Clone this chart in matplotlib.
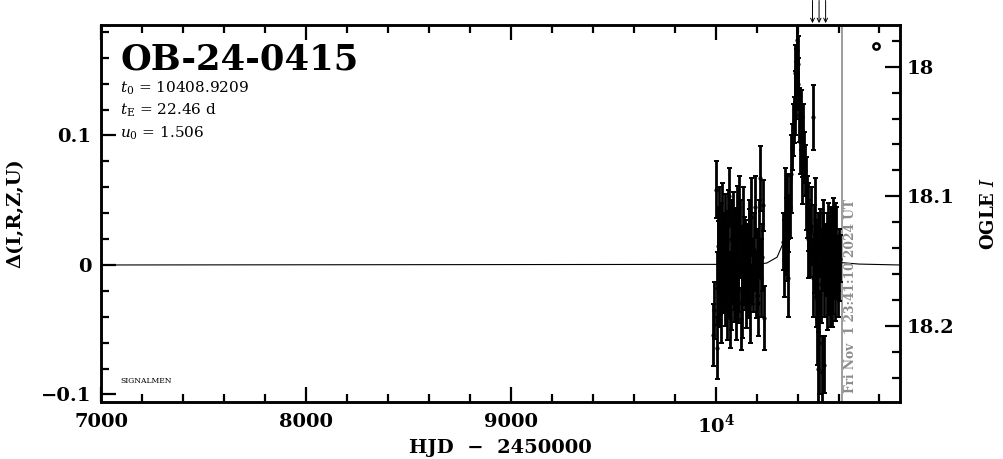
import matplotlib
matplotlib.use("Agg")
import matplotlib.pyplot as plt
from matplotlib.ticker import MultipleLocator, FixedLocator, FixedFormatter

plt.rcParams['font.family'] = ['DejaVu Serif']
plt.rcParams['mathtext.fontset'] = 'dejavuserif'

# ---------------- data ----------------
# season 2023
hjd_a = [9986, 9993, 10002, 10006, 10008, 10010, 10014, 10017, 10019, 10022,
         10025, 10027, 10030, 10032, 10035, 10038, 10041, 10044, 10046, 10048,
         10051, 10054, 10056, 10058, 10061, 10063, 10067, 10071, 10074, 10076,
         10079, 10084, 10087, 10090, 10092, 10095, 10098, 10100, 10103, 10106,
         10108, 10111, 10116, 10119, 10123, 10127, 10130, 10133, 10136, 10139,
         10142, 10144, 10149, 10152, 10156, 10160, 10163, 10165, 10169, 10172,
         10176, 10181, 10186, 10193, 10197, 10201, 10209, 10213, 10217, 10220,
         10225, 10230, 10237]
dmag_a = [-0.054, -0.035, 0.058, -0.018, -0.064, 0.015, 0.010, -0.020, 0.030, -0.004,
          0.020, -0.030, 0.035, 0.005, -0.012, 0.006, 0.015, 0.025, -0.025, -0.005,
          -0.008, 0.005, -0.030, 0.018, 0.030, -0.015, 0.053, -0.041, 0.020, -0.020,
          -0.005, 0.010, 0.030, -0.020, -0.005, 0.019, -0.030, 0.000, 0.027, 0.010,
          -0.008, -0.019, 0.045, 0.020, -0.042, 0.000, -0.028, -0.002, 0.030, 0.012,
          0.005, -0.010, -0.025, 0.006, -0.005, -0.018, 0.022, 0.015, -0.030, 0.037,
          -0.005, -0.012, 0.010, 0.045, -0.015, 0.002, -0.029, 0.020, 0.067, -0.010,
          0.006, 0.046, -0.041]
err_a = [0.024, 0.022, 0.022, 0.028, 0.024, 0.030, 0.024, 0.028, 0.030, 0.034,
         0.028, 0.030, 0.028, 0.028, 0.025, 0.034, 0.024, 0.030, 0.022, 0.030,
         0.024, 0.027, 0.028, 0.024, 0.028, 0.025, 0.022, 0.023, 0.030, 0.030,
         0.025, 0.028, 0.026, 0.024, 0.030, 0.025, 0.028, 0.028, 0.034, 0.030,
         0.028, 0.026, 0.024, 0.030, 0.024, 0.030, 0.028, 0.029, 0.030, 0.025,
         0.030, 0.025, 0.024, 0.026, 0.030, 0.023, 0.028, 0.028, 0.030, 0.030,
         0.025, 0.024, 0.030, 0.024, 0.026, 0.026, 0.026, 0.030, 0.025, 0.030,
         0.026, 0.020, 0.025]

# season 2024
hjd_b = [10331, 10335, 10339, 10343, 10347, 10352, 10355, 10363, 10367, 10372,
         10376, 10383, 10386, 10388, 10391, 10393, 10396, 10399, 10402, 10404,
         10409, 10412, 10415, 10420, 10424, 10428, 10432, 10437, 10441, 10445,
         10449, 10453, 10458, 10461, 10466, 10474, 10477, 10480, 10485, 10488,
         10491, 10494, 10497, 10500, 10502, 10507, 10510, 10513, 10517, 10518,
         10523, 10526, 10529, 10531, 10534, 10539, 10542, 10545, 10547, 10550,
         10553, 10555, 10558, 10562, 10565, 10567, 10570, 10572, 10575, 10578,
         10582, 10585, 10588, 10591, 10595, 10599, 10602, 10605]
dmag_b = [0.018, 0.005, 0.040, 0.022, 0.029, -0.010, 0.032, 0.045, 0.070, 0.091,
          0.104, 0.112, 0.125, 0.148, 0.135, 0.151, 0.166, 0.174, 0.155, 0.140,
          0.116, 0.095, 0.112, 0.091, 0.075, 0.103, 0.083, 0.073, 0.055, 0.045,
          0.020, 0.037, 0.019, 0.009, 0.030, 0.114, -0.010, 0.012, 0.035, 0.005,
          -0.020, -0.002, -0.042, 0.010, -0.080, -0.060, 0.017, -0.015, -0.083, 0.004,
          0.018, 0.020, -0.077, -0.012, 0.006, 0.002, -0.020, 0.014, 0.020, -0.015,
          -0.005, 0.012, -0.020, 0.017, 0.015, -0.010, -0.018, 0.008, 0.022, -0.002,
          -0.015, 0.020, 0.015, -0.002, -0.010, -0.004, 0.000, 0.005]
err_b = [0.022, 0.030, 0.035, 0.030, 0.041, 0.030, 0.022, 0.024, 0.030, 0.018,
         0.020, 0.018, 0.025, 0.022, 0.022, 0.016, 0.020, 0.022, 0.022, 0.020,
         0.021, 0.025, 0.023, 0.023, 0.028, 0.021, 0.020, 0.020, 0.028, 0.024,
         0.030, 0.026, 0.028, 0.018, 0.030, 0.025, 0.030, 0.034, 0.032, 0.030,
         0.028, 0.024, 0.035, 0.030, 0.028, 0.040, 0.026, 0.030, 0.028, 0.024,
         0.022, 0.030, 0.022, 0.028, 0.026, 0.026, 0.030, 0.026, 0.028, 0.024,
         0.030, 0.026, 0.028, 0.026, 0.030, 0.028, 0.030, 0.032, 0.030, 0.024,
         0.028, 0.028, 0.030, 0.024, 0.030, 0.016, 0.028, 0.018]

model_t = [7000, 10200, 10250, 10300, 10330, 10348, 10360, 10370, 10380, 10390,
           10400, 10409, 10418, 10428, 10438, 10448, 10460, 10470, 10485, 10500,
           10540, 10600, 10700, 10900]
model_d = [0.0, 0.0005, 0.0015, 0.006, 0.017, 0.029, 0.042, 0.060, 0.085, 0.110,
           0.128, 0.135, 0.128, 0.110, 0.085, 0.060, 0.040, 0.029, 0.018, 0.012,
           0.005, 0.002, 0.0007, 0.0]

arrow_t = [10473, 10505, 10537]
now_t = 10616.49
now_label = "Fri Nov  1 23:41:10 2024 UT"
event = "OB-24-0415"
params = [r"$t_{\rm 0}$ = 10408.9209", r"$t_{\rm E}$ = 22.46 d", r"$u_{\rm 0}$ = 1.506"]
xticks = [7000, 8000, 9000, 10000]
xticklabels = ["7000", "8000", "9000", r"10$^{\mathbf{4}}$"]
I0 = 18.1531
legend_pos = (10785, 0.169)

# ---------------- figure ----------------
fig = plt.figure(figsize=(10.04, 4.59), dpi=100)
ax = fig.add_axes([0.1006, 0.1242, 0.7958, 0.8213])

ax.plot(model_t, model_d, color='black', lw=0.8, zorder=2)
for h, d, e in ((hjd_a, dmag_a, err_a), (hjd_b, dmag_b, err_b)):
    ax.errorbar(h, d, yerr=e, fmt='o', ms=2, color='black', ecolor='black',
                elinewidth=2.0, capsize=1.8, capthick=1.4, zorder=3)

ax.axvline(now_t, color='#8c8c8c', lw=1.2, zorder=1)
ax.text(now_t + 12, -0.099, now_label, rotation=90, color='#8c8c8c',
        fontsize=8.8, fontweight='bold', ha='left', va='bottom', zorder=4)

ax.plot([legend_pos[0]], [legend_pos[1]], 'o', ms=4.5, mfc='white', mec='black', mew=1.8)

ax.set_xlim(7000, 10900)
ax.set_ylim(-0.1058, 0.1853)

for t in arrow_t:
    ax.annotate('', xy=(t, 1.005), xycoords=('data', 'axes fraction'),
                xytext=(t, 1.065), textcoords=('data', 'axes fraction'),
                arrowprops=dict(arrowstyle='->', lw=0.7, color='black',
                                shrinkA=0, shrinkB=0, mutation_scale=7),
                annotation_clip=False)

ax.text(0.024, 0.883, event, transform=ax.transAxes, fontsize=25.5, fontweight='bold',
        ha='left', va='baseline')
for i, p in enumerate(params):
    ax.text(0.024, 0.822 - i * 0.06, p, transform=ax.transAxes, fontsize=11,
            ha='left', va='baseline')
ax.text(0.024, 0.05, "SIGNALMEN", transform=ax.transAxes, fontsize=5.5,
        ha='left', va='baseline')

ax.xaxis.set_major_locator(FixedLocator(xticks))
ax.xaxis.set_major_formatter(FixedFormatter(xticklabels))
ax.xaxis.set_minor_locator(MultipleLocator(200))
ax.yaxis.set_minor_locator(MultipleLocator(0.02))
ax.set_yticks([-0.1, 0, 0.1])
ax.set_yticklabels(["\u22120.1", "0", "0.1"])
ax.tick_params(axis='x', which='both', direction='in', top=True, bottom=True)
ax.tick_params(axis='y', which='both', direction='in', left=True, right=False)
ax.tick_params(which='major', length=11, width=1.6, labelsize=14, pad=8)
ax.tick_params(axis='y', which='major', pad=7)
ax.tick_params(which='minor', length=5.5, width=1.6)
for lbl in ax.get_xticklabels() + ax.get_yticklabels():
    lbl.set_fontweight('bold')

for s in ax.spines.values():
    s.set_linewidth(1.8)

ax.set_xlabel("HJD  \u2212  2450000", fontsize=14, labelpad=2, fontweight='bold')
ax.set_ylabel("\u0394(I,R,Z,U)", fontsize=14, labelpad=12, fontweight='bold')

ax2 = ax.twinx()
ax2.set_ylim(I0 + 0.1058, I0 - 0.1853)
ax2.yaxis.set_major_locator(FixedLocator([18.0, 18.1, 18.2]))
ax2.yaxis.set_major_formatter(FixedFormatter(["18", "18.1", "18.2"]))
ax2.yaxis.set_minor_locator(MultipleLocator(0.02))
ax2.tick_params(axis='y', which='both', direction='in', right=True, left=False)
ax2.tick_params(which='major', length=11, width=1.6, labelsize=14, pad=5)
ax2.tick_params(which='minor', length=5.5, width=1.6)
for lbl in ax2.get_yticklabels():
    lbl.set_fontweight('bold')
ax2.set_ylabel("OGLE $\\mathbf{\\mathit{I}}$", fontsize=13, rotation=90, labelpad=18,
               fontweight='bold')
for s in ax2.spines.values():
    s.set_linewidth(1.8)

fig.savefig("out.png", dpi=100)
